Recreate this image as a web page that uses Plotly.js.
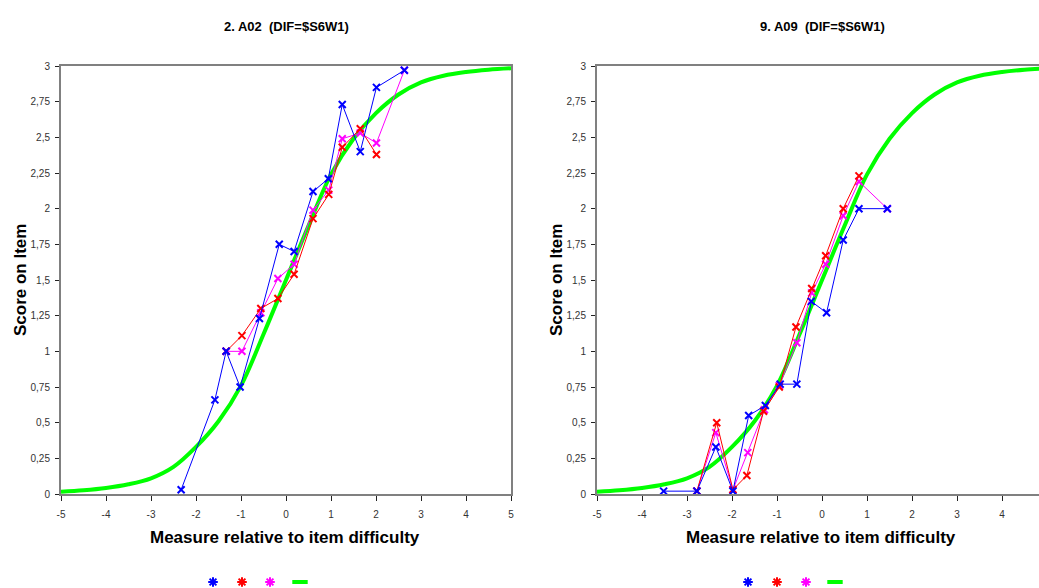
<!DOCTYPE html>
<html>
<head>
<meta charset="utf-8">
<script src="https://cdn.plot.ly/plotly-3.0.1.min.js"></script>
<style>html,body{margin:0;padding:0;background:#fff;}#chart{width:1039px;height:588px;}</style>
</head>
<body>
<div id="chart"></div>
<script>
// ---------- Tick labels ----------
const xTickValsLeft = [-5, -4, -3, -2, -1, 0, 1, 2, 3, 4, 5];
const xTickTextLeft = ['-5', '-4', '-3', '-2', '-1', '0', '1', '2', '3', '4', '5'];
const xTickValsRight = [-5, -4, -3, -2, -1, 0, 1, 2, 3, 4];
const xTickTextRight = ['-5', '-4', '-3', '-2', '-1', '0', '1', '2', '3', '4'];
const yTickVals = [0, 0.25, 0.5, 0.75, 1, 1.25, 1.5, 1.75, 2, 2.25, 2.5, 2.75, 3];
const yTickText = ['0', '0,25', '0,5', '0,75', '1', '1,25', '1,5', '1,75', '2', '2,25', '2,5', '2,75', '3'];

// ---------- Model curve ----------
const modelX = [-5, -4.5, -4, -3.5, -3, -2.5, -2, -1.5, -1, -0.5, 0, 0.5, 1, 1.5, 2, 2.5, 3, 3.5, 4, 4.5, 5];
const modelY = [0.016, 0.026, 0.042, 0.068, 0.11, 0.19, 0.33, 0.51, 0.76, 1.12, 1.5, 1.88, 2.24, 2.49, 2.67, 2.80, 2.885, 2.932, 2.958, 2.974, 2.984];

// ---------- Left chart: 2. A02 ----------
const a02BlueX = [-2.33, -1.58, -1.33, -1.02, -0.59, -0.15, 0.18, 0.6, 0.94, 1.25, 1.65, 2.01, 2.63];
const a02BlueY = [0.03, 0.66, 1.0, 0.75, 1.23, 1.75, 1.70, 2.12, 2.21, 2.73, 2.40, 2.85, 2.97];
const a02RedX = [-1.33, -0.98, -0.56, -0.18, 0.18, 0.6, 0.95, 1.25, 1.65, 2.01];
const a02RedY = [1.0, 1.11, 1.30, 1.37, 1.54, 1.93, 2.10, 2.43, 2.56, 2.38];
const a02MagX = [-1.33, -0.98, -0.56, -0.18, 0.18, 0.6, 0.95, 1.25, 1.65, 2.01, 2.63];
const a02MagY = [1.0, 1.0, 1.27, 1.51, 1.61, 1.99, 2.13, 2.49, 2.53, 2.46, 2.97];

// ---------- Right chart: 9. A09 ----------
const a09BlueX = [-3.52, -2.78, -2.36, -1.98, -1.63, -1.26, -0.93, -0.56, -0.24, 0.10, 0.47, 0.82, 1.45];
const a09BlueY = [0.02, 0.02, 0.33, 0.02, 0.55, 0.62, 0.77, 0.77, 1.35, 1.27, 1.78, 2.0, 2.0];
const a09RedX = [-2.78, -2.34, -1.98, -1.67, -1.30, -0.95, -0.58, -0.23, 0.08, 0.47, 0.82];
const a09RedY = [0.02, 0.50, 0.03, 0.13, 0.58, 0.75, 1.17, 1.44, 1.67, 2.0, 2.23];
const a09MagX = [-2.78, -2.36, -1.98, -1.65, -1.28, -0.95, -0.56, -0.23, 0.08, 0.47, 0.82, 1.45];
const a09MagY = [0.02, 0.43, 0.03, 0.29, 0.59, 0.76, 1.06, 1.41, 1.61, 1.95, 2.19, 2.0];

const titles = ['2. A02&nbsp; (DIF=$S6W1)', '9. A09&nbsp; (DIF=$S6W1)'];
const xTitle = 'Measure relative to item difficulty';
const yTitle = 'Score on Item';

const BLUE = '#0000ff', RED = '#ff0000', MAG = '#ff00ff', GREEN = '#00ff00';
const FONT = 'Liberation Sans, Arial, sans-serif';

function obsTrace(x, y, color, xa, ya) {
  return {
    x: x, y: y, xaxis: xa, yaxis: ya, type: 'scatter', mode: 'lines+markers',
    line: {color: color, width: 1},
    marker: {symbol: 'x-thin', size: 7, color: color, line: {color: color, width: 2}},
    showlegend: false, hoverinfo: 'x+y'
  };
}
function modelTrace(xa, ya) {
  return {
    x: modelX, y: modelY, xaxis: xa, yaxis: ya, type: 'scatter', mode: 'lines',
    line: {color: GREEN, width: 4, shape: 'spline', smoothing: 1},
    showlegend: false, hoverinfo: 'x+y'
  };
}
function legendTrace(color, isLine, legendId) {
  return {
    x: [null], y: [null], type: 'scatter', mode: 'markers', name: ' ', legend: legendId,
    marker: isLine
      ? {symbol: 'line-ew', size: 11, color: color, line: {color: color, width: 4}}
      : {symbol: 'asterisk', size: 8, color: color, line: {color: color, width: 2}},
    showlegend: true, hoverinfo: 'skip'
  };
}

const data = [
  modelTrace('x', 'y'),
  obsTrace(a02MagX, a02MagY, MAG, 'x', 'y'),
  obsTrace(a02RedX, a02RedY, RED, 'x', 'y'),
  obsTrace(a02BlueX, a02BlueY, BLUE, 'x', 'y'),
  modelTrace('x2', 'y2'),
  obsTrace(a09MagX, a09MagY, MAG, 'x2', 'y2'),
  obsTrace(a09RedX, a09RedY, RED, 'x2', 'y2'),
  obsTrace(a09BlueX, a09BlueY, BLUE, 'x2', 'y2'),
  legendTrace(BLUE, false, 'legend'),
  legendTrace(RED, false, 'legend2'),
  legendTrace(MAG, false, 'legend3'),
  legendTrace(GREEN, true, 'legend4'),
  legendTrace(BLUE, false, 'legend5'),
  legendTrace(RED, false, 'legend6'),
  legendTrace(MAG, false, 'legend7'),
  legendTrace(GREEN, true, 'legend8')
];

const W = 1039, H = 588;
const yDom = [1 - 494 / H, 1 - 66 / H];

function xAxis(domain, range, vals, text, yref) {
  return {
    domain: domain, range: range, anchor: yref, tickmode: 'array', tickvals: vals, ticktext: text,
    showline: true, linecolor: '#808080', linewidth: 2, mirror: true,
    ticks: 'outside', ticklen: 5, tickwidth: 1, tickcolor: '#222',
    showgrid: false, zeroline: false, fixedrange: true,
    tickfont: {family: FONT, size: 10, color: '#333'}, ticklabelstandoff: 5
  };
}
function yAxis(xref, mirror) {
  return {
    domain: yDom, range: [0, 3], anchor: xref, tickmode: 'array', tickvals: yTickVals, ticktext: yTickText,
    showline: true, linecolor: '#808080', linewidth: 2, mirror: mirror,
    ticks: 'outside', ticklen: 4, tickwidth: 1, tickcolor: '#222',
    showgrid: false, zeroline: false, fixedrange: true,
    tickfont: {family: FONT, size: 10, color: '#333'}, ticklabelstandoff: 3
  };
}

function ann(text, px, py, size, angle) {
  return {
    text: text, x: px / W, y: 1 - py / H, xref: 'paper', yref: 'paper', showarrow: false,
    xanchor: 'center', yanchor: 'middle', textangle: angle || 0,
    font: {family: FONT, size: size, weight: 'bold', color: '#000'}
  };
}

const legendCenters = [213, 242, 270, 300, 748, 777, 806, 835];
const legendIds = ['legend', 'legend2', 'legend3', 'legend4', 'legend5', 'legend6', 'legend7', 'legend8'];

const layout = {
  width: W, height: H,
  margin: {l: 0, r: 0, t: 0, b: 0, autoexpand: false},
  paper_bgcolor: '#ffffff', plot_bgcolor: '#ffffff',
  font: {family: FONT, color: '#000'},
  xaxis: xAxis([61 / W, 511 / W], [-5, 5], xTickValsLeft, xTickTextLeft, 'y'),
  yaxis: yAxis('x', true),
  xaxis2: xAxis([597 / W, 1], [-5, 4.82], xTickValsRight, xTickTextRight, 'y2'),
  yaxis2: yAxis('x2', false),
  annotations: [
    ann(titles[0], 286, 27, 13),
    ann(titles[1], 822, 27, 13),
    ann(xTitle, 285, 537, 17),
    ann(xTitle, 821, 537, 17),
    ann(yTitle, 20, 280, 17, -90),
    ann(yTitle, 556, 280, 17, -90)
  ]
};
legendIds.forEach(function (id, i) {
  layout[id] = {
    x: (legendCenters[i] - 20) / W, y: 1 - 582 / H, xanchor: 'left', yanchor: 'middle',
    bgcolor: 'rgba(0,0,0,0)', borderwidth: 0, font: {family: FONT, size: 10},
    itemclick: false, itemdoubleclick: false
  };
});

Plotly.newPlot('chart', data, layout, {displayModeBar: false, staticPlot: true});
</script>
</body>
</html>
